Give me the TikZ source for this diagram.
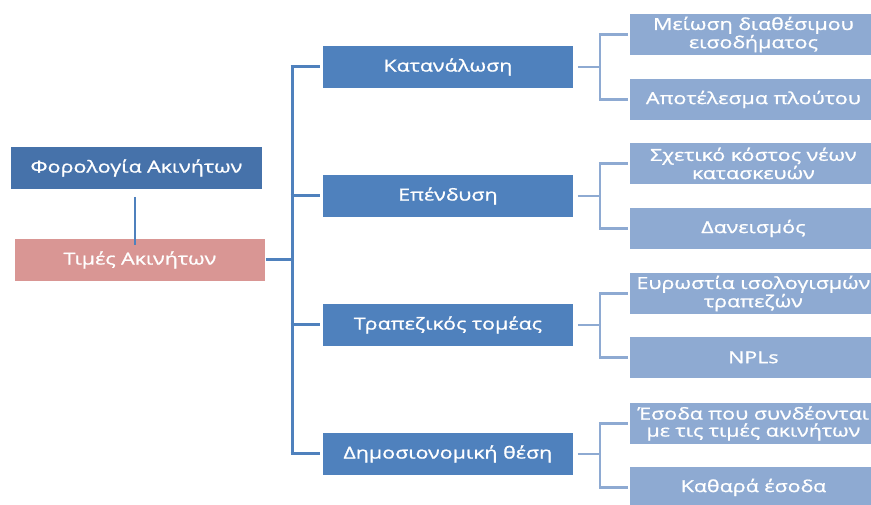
\documentclass[tikz,border=0pt]{standalone}
\usepackage{fontspec}
\setmainfont[FakeStretch=1.3,FakeBold=1.1]{Open Sans}
\definecolor{taxblue}{HTML}{4672AA}
\definecolor{midblue}{HTML}{4F81BD}
\definecolor{leafblue}{HTML}{8EAAD2}
\definecolor{pinkbox}{HTML}{D99694}
\begin{document}
\begin{tikzpicture}[x=1pt,y=-1pt,
  box/.style={draw=white, line width=0.8pt, minimum height=43pt, text=white,
    font=\fontsize{16.5}{17}\selectfont, align=center, inner sep=0pt, anchor=north west},
  taxbox/.style={box, fill=taxblue, minimum width=252pt},
  pricebox/.style={box, fill=pinkbox, minimum width=251pt},
  midbox/.style={box, fill=midblue, minimum width=251pt},
  leafbox/.style={box, fill=leafblue, minimum width=248pt, minimum height=42pt},
  trunk/.style={draw=midblue, line width=3pt},
  thin/.style={draw=midblue, line width=2pt},
  branch/.style={draw=leafblue, line width=2.5pt}]
\useasboundingbox (0,0) rectangle (871,505);
\clip (0,0) rectangle (871,505);

\node[taxbox] (tax) at (10,146) {Φορολογία Ακινήτων};
\node[pricebox] (price) at (14,238) {Τιμές Ακινήτων};

\node[midbox] (c1) at (322,45) {Κατανάλωση};
\node[midbox] (c2) at (322,174) {Επένδυση};
\node[midbox] (c3) at (322,303) {Τραπεζικός τομέας};
\node[midbox] (c4) at (322,432) {Δημοσιονομική θέση};

\node[leafbox] (l11) at (629,13) {Μείωση διαθέσιμου\\εισοδήματος};
\node[leafbox] (l12) at (629,78) {Αποτέλεσμα πλούτου};
\node[leafbox] (l21) at (629,142) {Σχετικό κόστος νέων\\κατασκευών};
\node[leafbox] (l22) at (629,207) {Δανεισμός};
\node[leafbox] (l31) at (629,272) {Ευρωστία ισολογισμών\\τραπεζών};
\node[leafbox] (l32) at (629,336) {NPLs};
\node[leafbox] (l41) at (629,402) {Έσοδα που συνδέονται\\με τις τιμές ακινήτων};
\node[leafbox] (l42) at (629,466) {Καθαρά έσοδα};

\coordinate (tr) at (292,0);
\coordinate (rb) at (600,0);

\draw[thin] ([xshift=-1pt,yshift=-7pt]tax.south) -- ([xshift=-1pt,yshift=-7pt]tax.south |- price.north);

\draw[trunk] (price.east) -- (tr |- price.east);
\draw[trunk] ([yshift=1.5pt]tr |- c1.west) -- ([yshift=-1.5pt]tr |- c4.west);
\foreach \c in {c1,c2,c3,c4}{
  \draw[trunk] ([xshift=-1.5pt]tr |- \c.west) -- ([xshift=-2pt]\c.west);
}

\foreach \c/\a/\b in {c1/l11/l12, c2/l21/l22, c3/l31/l32, c4/l41/l42}{
  \draw[branch] ([xshift=4pt]\c.east) -- (rb |- \c.east);
  \draw[branch] ([yshift=1.25pt]rb |- \a.west) -- ([yshift=-1.25pt]rb |- \b.west);
  \draw[branch] ([xshift=-1.25pt]rb |- \a.west) -- ([xshift=-1pt]\a.west);
  \draw[branch] ([xshift=-1.25pt]rb |- \b.west) -- ([xshift=-1pt]\b.west);
}
\end{tikzpicture}
\end{document}
